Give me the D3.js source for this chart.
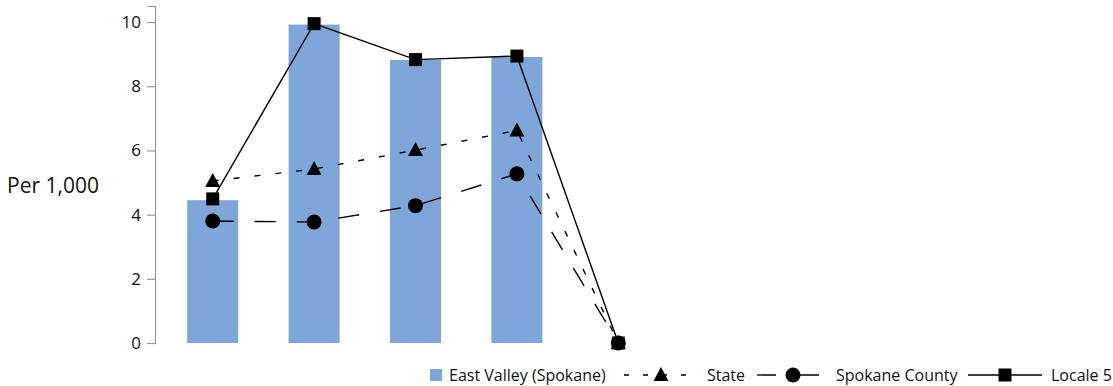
<!DOCTYPE html>
<html>
<head>
<meta charset="utf-8">
<script src="https://cdn.jsdelivr.net/npm/d3@7"></script>
<style>
  html, body { margin: 0; padding: 0; background: #fff; }
  svg { display: block; font-family: "Open Sans", "Noto Sans", sans-serif; }
</style>
</head>
<body>
<svg id="chart" width="1113" height="386"></svg>
<script>
const categories = ["A", "B", "C", "D", "E"];
const eastValley = [4.45, 9.92, 8.82, 8.91, 0];
const stateVals = [5.05, 5.42, 6.01, 6.62, 0];
const spokaneCounty = [3.8, 3.77, 4.28, 5.27, 0];
const locale5 = [4.49, 9.95, 8.83, 8.94, 0];
const yTicks = [0, 2, 4, 6, 8, 10];
const yLabel = "Per 1,000";
const legendLabels = ["East Valley (Spokane)", "State", "Spokane County", "Locale 5"];

const svg = d3.select("#chart");
const barColor = "#7ea6d8";

const x = d3.scaleBand().domain(categories).range([162, 669]).paddingInner(0.5).paddingOuter(0.25);
const y = d3.scaleLinear().domain([0, 10.5]).range([343, 6]);

// y axis
const yAxis = d3.axisLeft(y).tickValues(yTicks).tickSize(8).tickPadding(6).tickFormat(d3.format("d"));
const gy = svg.append("g").attr("transform", "translate(155,0)").call(yAxis);
gy.select(".domain").attr("stroke", "#999").attr("stroke-width", 1.2);
gy.selectAll(".tick line").attr("stroke", "#999").attr("stroke-width", 1.2);
gy.selectAll(".tick text").attr("font-size", 17).attr("fill", "#111").attr("font-family", "Open Sans");

svg.append("text").attr("x", 7).attr("y", 193).attr("font-size", 21).attr("fill", "#111").text(yLabel);

// bars
const bw = 51;
svg.append("g").selectAll("rect").data(categories.map((c, i) => ({c, v: eastValley[i]})).filter(d => d.v > 0))
  .join("rect")
  .attr("x", d => x(d.c) + x.bandwidth() / 2 - bw / 2)
  .attr("width", bw)
  .attr("y", d => y(d.v))
  .attr("height", d => y(0) - y(d.v))
  .attr("fill", barColor);

const cx = c => x(c) + x.bandwidth() / 2;
const line = d3.line().x(d => cx(d.c)).y(d => y(d.v));
const mk = arr => categories.map((c, i) => ({c, v: arr[i]}));

const series = [
  {data: mk(stateVals), dash: "6,15", shape: "tri"},
  {data: mk(spokaneCounty), dash: "21,21", shape: "circ"},
  {data: mk(locale5), dash: null, shape: "sq"}
];

function drawMarker(g, shape, px, py) {
  if (shape === "tri") {
    g.append("path").attr("d", `M${px},${py - 8}L${px + 7.5},${py + 6}L${px - 7.5},${py + 6}Z`).attr("fill", "#000");
  } else if (shape === "circ") {
    g.append("circle").attr("cx", px).attr("cy", py).attr("r", 7.5).attr("fill", "#000");
  } else {
    g.append("rect").attr("x", px - 6.5).attr("y", py - 6.5).attr("width", 13).attr("height", 13).attr("fill", "#000");
  }
}

series.forEach(s => {
  svg.append("path").datum(s.data).attr("d", line)
    .attr("fill", "none").attr("stroke", "#000").attr("stroke-width", 1.4)
    .attr("stroke-dasharray", s.dash);
});
series.forEach(s => {
  const g = svg.append("g");
  s.data.forEach(d => drawMarker(g, s.shape, cx(d.c), y(d.v)));
});

// legend
const lg = svg.append("g").attr("font-size", 16).attr("fill", "#111");
const ly = 375;
lg.append("rect").attr("x", 430).attr("y", ly - 6).attr("width", 12).attr("height", 12).attr("fill", barColor);
lg.append("text").attr("x", 449).attr("y", ly + 6).text(legendLabels[0]);

lg.append("line").attr("x1", 624).attr("x2", 696).attr("y1", ly).attr("y2", ly)
  .attr("stroke", "#000").attr("stroke-width", 1.4).attr("stroke-dasharray", "5,14");
drawMarker(lg, "tri", 661, ly);
lg.append("text").attr("x", 707).attr("y", ly + 6).text(legendLabels[1]);

lg.append("line").attr("x1", 757).attr("x2", 819).attr("y1", ly).attr("y2", ly)
  .attr("stroke", "#000").attr("stroke-width", 1.4).attr("stroke-dasharray", "19,24");
drawMarker(lg, "circ", 793, ly);
lg.append("text").attr("x", 836).attr("y", ly + 6).text(legendLabels[2]);

lg.append("line").attr("x1", 968).attr("x2", 1042).attr("y1", ly).attr("y2", ly)
  .attr("stroke", "#000").attr("stroke-width", 1.4);
drawMarker(lg, "sq", 1005, ly);
lg.append("text").attr("x", 1051).attr("y", ly + 6).text(legendLabels[3]);
</script>
</body>
</html>
